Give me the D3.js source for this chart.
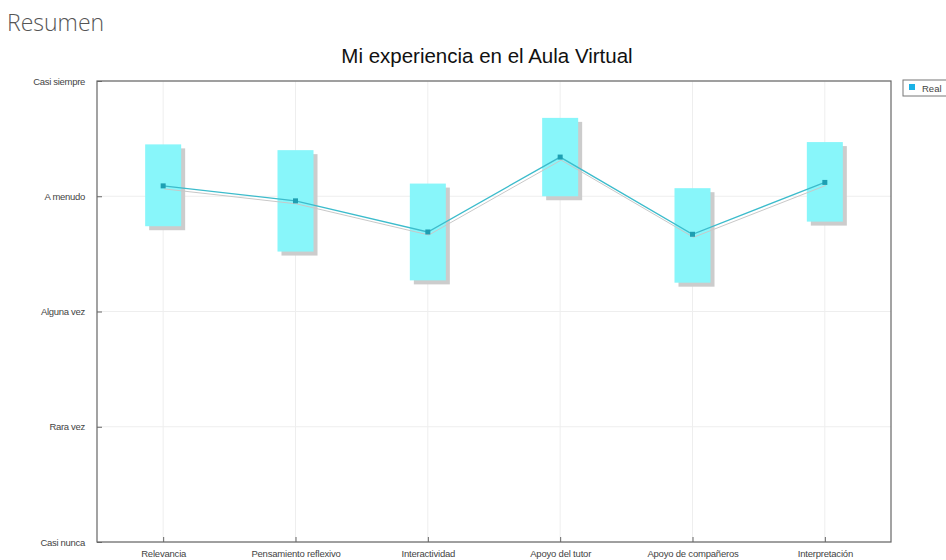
<!DOCTYPE html>
<html><head><meta charset="utf-8">
<script src="https://cdn.jsdelivr.net/npm/d3@7"></script>
<style>
body{margin:0;background:#fff;}
svg{display:block;}
</style></head>
<body>
<svg id="c" width="946" height="560"></svg>
<script>
const categories = ["Relevancia","Pensamiento reflexivo","Interactividad","Apoyo del tutor","Apoyo de compañeros","Interpretación"];
const levelLabels = ["Casi nunca","Rara vez","Alguna vez","A menudo","Casi siempre"];
const levelValues = [1,2,3,4,5];
const meanValues = [4.09,3.96,3.69,4.34,3.67,4.12];
const upperValues = [4.45,4.40,4.11,4.68,4.07,4.47];
const lowerValues = [3.74,3.52,3.27,4.00,3.25,3.78];
const seriesName = "Real";

const svg = d3.select("#c");
const pL = 97, pR = 891, pT = 81, pB = 542;

svg.append("text").attr("x",7).attr("y",31).text("Resumen")
  .attr("font-family","'Open Sans', sans-serif").attr("font-weight",300)
  .attr("font-size",23).attr("fill","#555");

svg.append("text").attr("x",487).attr("y",63).attr("text-anchor","middle")
  .text("Mi experiencia en el Aula Virtual")
  .attr("font-family","'Liberation Sans', Arial, sans-serif").attr("font-size",20.5).attr("fill","#111");

const x = d3.scalePoint().domain(categories).range([pL,pR]).padding(0.5);
const y = d3.scaleLinear().domain([1,5]).range([pB,pT]);

// grid
const g = svg.append("g");
g.selectAll(".vg").data(categories).join("line")
  .attr("x1",d=>x(d)).attr("x2",d=>x(d)).attr("y1",pT).attr("y2",pB)
  .attr("stroke","#eeeeee").attr("stroke-width",1);
g.selectAll(".hg").data(levelValues).join("line")
  .attr("x1",pL).attr("x2",pR).attr("y1",d=>y(d)).attr("y2",d=>y(d))
  .attr("stroke","#eeeeee").attr("stroke-width",1);

const bw = 36, sh = 4;
const idx = d3.range(categories.length);
// box shadows
g.selectAll(".bs").data(idx).join("rect")
  .attr("x",i=>x(categories[i])-bw/2+sh).attr("y",i=>y(upperValues[i])+sh)
  .attr("width",bw).attr("height",i=>y(lowerValues[i])-y(upperValues[i]))
  .attr("fill","#cccccc");
g.selectAll(".bx").data(idx).join("rect")
  .attr("x",i=>x(categories[i])-bw/2).attr("y",i=>y(upperValues[i]))
  .attr("width",bw).attr("height",i=>y(lowerValues[i])-y(upperValues[i]))
  .attr("fill","#88f6fa");

const line = d3.line().x(i=>x(categories[i])).y(i=>y(meanValues[i]));
g.append("path").datum(idx).attr("d",line).attr("fill","none")
  .attr("stroke","#c8c8c8").attr("stroke-width",1).attr("transform","translate(1,3)");
g.append("path").datum(idx).attr("d",line).attr("fill","none")
  .attr("stroke","#3cbccc").attr("stroke-width",1.3);
g.selectAll(".pt").data(idx).join("rect")
  .attr("x",i=>x(categories[i])-2.5).attr("y",i=>y(meanValues[i])-2.5)
  .attr("width",5).attr("height",5).attr("fill","#1e9fb2");

// axes frame
svg.append("rect").attr("x",pL).attr("y",pT).attr("width",pR-pL).attr("height",pB-pT)
  .attr("fill","none").attr("stroke","#666").attr("stroke-width",1.2);

const yAxis = d3.axisLeft(y).tickValues(levelValues).tickFormat((d,i)=>levelLabels[i]).tickSize(-5).tickPadding(12);
const ya = svg.append("g").attr("transform",`translate(${pL},0)`).call(yAxis);
ya.select(".domain").remove();
ya.selectAll("line").attr("stroke","#666");
ya.selectAll("text").attr("font-family","'Liberation Sans', Arial, sans-serif").attr("font-size",9.5).attr("fill","#444")
  .attr("letter-spacing","-0.3");

const xAxis = d3.axisBottom(x).tickSize(-5).tickPadding(8);
const xa = svg.append("g").attr("transform",`translate(0,${pB})`).call(xAxis);
xa.select(".domain").remove();
xa.selectAll("line").attr("stroke","#666");
xa.selectAll("text").attr("font-family","'Liberation Sans', Arial, sans-serif").attr("font-size",9.5).attr("fill","#444")
  .attr("letter-spacing","-0.2");

// legend
const lg = svg.append("g");
lg.append("rect").attr("x",903).attr("y",80).attr("width",60).attr("height",16)
  .attr("fill","#fff").attr("stroke","#777").attr("stroke-width",1);
lg.append("rect").attr("x",909).attr("y",84).attr("width",6).attr("height",6).attr("fill","#1ab2e6");
lg.append("text").attr("x",922).attr("y",92).text(seriesName)
  .attr("font-family","'Liberation Sans', Arial, sans-serif").attr("font-size",9.5).attr("fill","#444");
</script>
</body></html>
